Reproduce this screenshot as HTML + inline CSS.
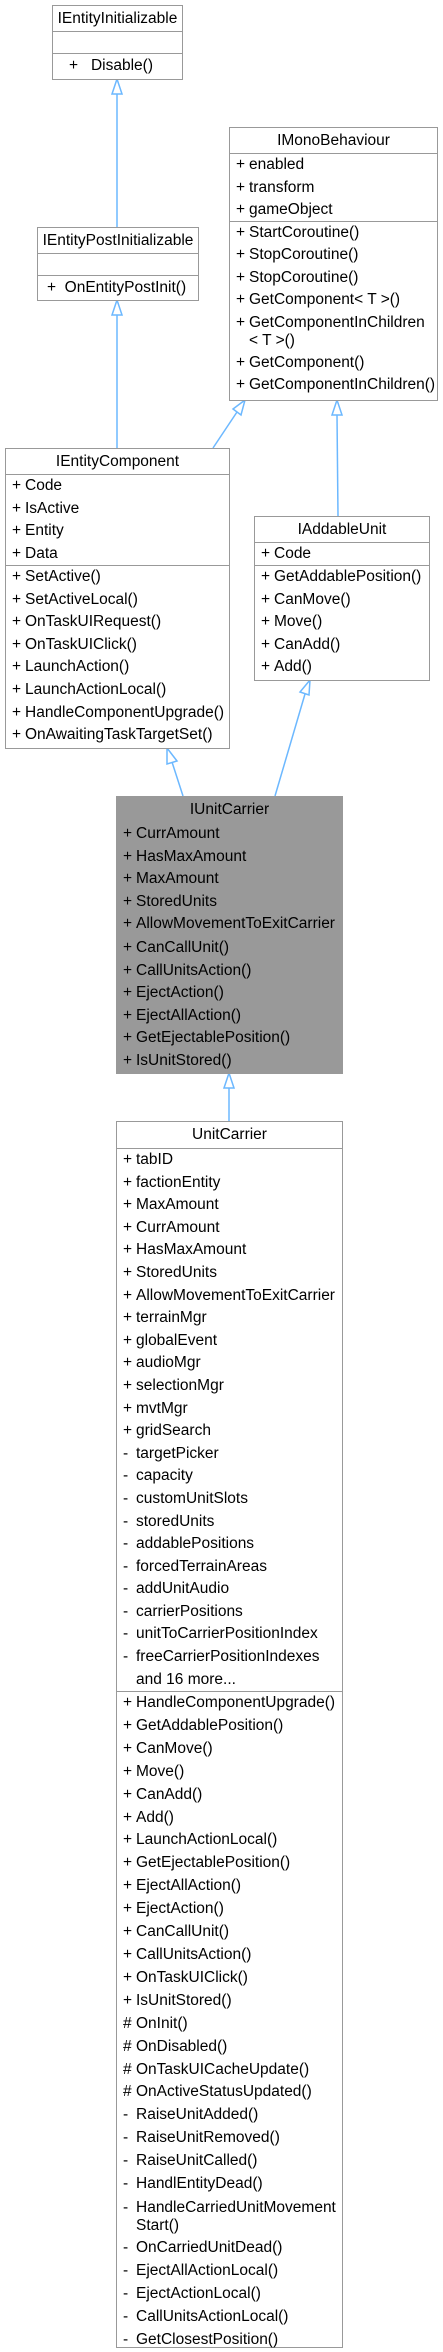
<!DOCTYPE html>
<html><head><meta charset="utf-8"><style>
*{margin:0;padding:0;box-sizing:border-box}
body{width:443px;height:2352px;background:#fff;position:relative;overflow:hidden;font-family:"Liberation Sans",Arial,sans-serif;font-size:15.5px;color:#000}
.b{position:absolute;border:1.5px solid #999;background:#fff}
.g{background:#999}
.s{position:relative;border-top:1.5px solid #999}
.t{text-align:center;border-top:none}
.r{position:relative;white-space:nowrap;padding-left:19px}
.r i{font-style:normal;position:absolute;left:6px}
svg{position:absolute;left:0;top:0}
</style></head><body>
<svg width="443" height="2352">
<g stroke="#6cb8ff" stroke-width="1.5" fill="#fff">
<line x1="117" y1="227" x2="117" y2="94"/><polygon points="117,79 112,94 122,94"/>
<line x1="117" y1="448" x2="117" y2="315"/><polygon points="117,300 112,315 122,315"/>
<line x1="213" y1="448" x2="237" y2="412"/><polygon points="245,400 233,409 241,415"/>
<line x1="338" y1="516" x2="337" y2="415"/><polygon points="337,400 332,415 342,415"/>
<line x1="183" y1="796" x2="172" y2="762"/><polygon points="167,748 167,764 177,761"/>
<line x1="275" y1="796" x2="305" y2="694"/><polygon points="310,680 300,692 309,695"/>
<line x1="229" y1="1121" x2="229" y2="1088"/><polygon points="229,1073 224,1088 234,1088"/>
</g></svg>

<div class="b" style="left:52px;top:5px;width:131px;height:75px">
<div class="s t" style="height:25px;line-height:25px">IEntityInitializable</div>
<div class="s" style="height:22px"></div>
<div class="s" style="height:25px;line-height:24px;padding-left:16px">+ &nbsp;&nbsp;Disable()</div>
</div>

<div class="b" style="left:37px;top:227px;width:162px;height:74px">
<div class="s t" style="height:25px;line-height:25px">IEntityPostInitializable</div>
<div class="s" style="height:22px"></div>
<div class="s" style="height:24px;line-height:23px;padding-left:9px">+ &nbsp;OnEntityPostInit()</div>
</div>

<div class="b" style="left:229px;top:127px;width:209px;height:274px">
<div class="s t" style="height:25px;line-height:25px">IMonoBehaviour</div>
<div class="s" style="height:68px;line-height:22.5px">
<div class="r"><i>+</i>enabled</div><div class="r"><i>+</i>transform</div><div class="r"><i>+</i>gameObject</div></div>
<div class="s" style="height:178px;line-height:22.3px">
<div class="r"><i>+</i>StartCoroutine()</div><div class="r"><i>+</i>StopCoroutine()</div><div class="r"><i>+</i>StopCoroutine()</div><div class="r"><i>+</i>GetComponent&lt; T &gt;()</div><div class="r" style="line-height:18px;padding-top:3px;padding-bottom:2px"><i>+</i>GetComponentInChildren<br>&lt; T &gt;()</div><div class="r"><i>+</i>GetComponent()</div><div class="r"><i>+</i>GetComponentInChildren()</div></div>
</div>

<div class="b" style="left:5px;top:448px;width:225px;height:301px">
<div class="s t" style="height:25px;line-height:25px">IEntityComponent</div>
<div class="s" style="height:91px;line-height:22.5px">
<div class="r"><i>+</i>Code</div><div class="r"><i>+</i>IsActive</div><div class="r"><i>+</i>Entity</div><div class="r"><i>+</i>Data</div></div>
<div class="s" style="height:182px;line-height:22.6px">
<div class="r"><i>+</i>SetActive()</div><div class="r"><i>+</i>SetActiveLocal()</div><div class="r"><i>+</i>OnTaskUIRequest()</div><div class="r"><i>+</i>OnTaskUIClick()</div><div class="r"><i>+</i>LaunchAction()</div><div class="r"><i>+</i>LaunchActionLocal()</div><div class="r"><i>+</i>HandleComponentUpgrade()</div><div class="r"><i>+</i>OnAwaitingTaskTargetSet()</div></div>
</div>

<div class="b" style="left:254px;top:516px;width:176px;height:165px">
<div class="s t" style="height:25px;line-height:25px">IAddableUnit</div>
<div class="s" style="height:23px;line-height:22px"><div class="r"><i>+</i>Code</div></div>
<div class="s" style="height:114px;line-height:22.6px">
<div class="r"><i>+</i>GetAddablePosition()</div><div class="r"><i>+</i>CanMove()</div><div class="r"><i>+</i>Move()</div><div class="r"><i>+</i>CanAdd()</div><div class="r"><i>+</i>Add()</div></div>
</div>

<div class="b g" style="left:116px;top:796px;width:227px;height:278px">
<div class="s t" style="height:25px;line-height:25px">IUnitCarrier</div>
<div class="s" style="height:114px;line-height:22.6px">
<div class="r"><i>+</i>CurrAmount</div><div class="r"><i>+</i>HasMaxAmount</div><div class="r"><i>+</i>MaxAmount</div><div class="r"><i>+</i>StoredUnits</div><div class="r"><i>+</i>AllowMovementToExitCarrier</div></div>
<div class="s" style="height:136px;line-height:22.5px">
<div class="r"><i>+</i>CanCallUnit()</div><div class="r"><i>+</i>CallUnitsAction()</div><div class="r"><i>+</i>EjectAction()</div><div class="r"><i>+</i>EjectAllAction()</div><div class="r"><i>+</i>GetEjectablePosition()</div><div class="r"><i>+</i>IsUnitStored()</div></div>
</div>

<div class="b" style="left:116px;top:1121px;width:227px;height:1227px">
<div class="s t" style="height:26px;line-height:26px">UnitCarrier</div>
<div class="s" style="height:543px;line-height:22.6px">
<div class="r"><i>+</i>tabID</div><div class="r"><i>+</i>factionEntity</div><div class="r"><i>+</i>MaxAmount</div><div class="r"><i>+</i>CurrAmount</div><div class="r"><i>+</i>HasMaxAmount</div><div class="r"><i>+</i>StoredUnits</div><div class="r"><i>+</i>AllowMovementToExitCarrier</div><div class="r"><i>+</i>terrainMgr</div><div class="r"><i>+</i>globalEvent</div><div class="r"><i>+</i>audioMgr</div><div class="r"><i>+</i>selectionMgr</div><div class="r"><i>+</i>mvtMgr</div><div class="r"><i>+</i>gridSearch</div><div class="r"><i>-</i>targetPicker</div><div class="r"><i>-</i>capacity</div><div class="r"><i>-</i>customUnitSlots</div><div class="r"><i>-</i>storedUnits</div><div class="r"><i>-</i>addablePositions</div><div class="r"><i>-</i>forcedTerrainAreas</div><div class="r"><i>-</i>addUnitAudio</div><div class="r"><i>-</i>carrierPositions</div><div class="r"><i>-</i>unitToCarrierPositionIndex</div><div class="r"><i>-</i>freeCarrierPositionIndexes</div><div class="r">and 16 more...</div></div>
<div class="s" style="height:655px;line-height:22.9px">
<div class="r"><i>+</i>HandleComponentUpgrade()</div><div class="r"><i>+</i>GetAddablePosition()</div><div class="r"><i>+</i>CanMove()</div><div class="r"><i>+</i>Move()</div><div class="r"><i>+</i>CanAdd()</div><div class="r"><i>+</i>Add()</div><div class="r"><i>+</i>LaunchActionLocal()</div><div class="r"><i>+</i>GetEjectablePosition()</div><div class="r"><i>+</i>EjectAllAction()</div><div class="r"><i>+</i>EjectAction()</div><div class="r"><i>+</i>CanCallUnit()</div><div class="r"><i>+</i>CallUnitsAction()</div><div class="r"><i>+</i>OnTaskUIClick()</div><div class="r"><i>+</i>IsUnitStored()</div><div class="r"><i>#</i>OnInit()</div><div class="r"><i>#</i>OnDisabled()</div><div class="r"><i>#</i>OnTaskUICacheUpdate()</div><div class="r"><i>#</i>OnActiveStatusUpdated()</div><div class="r"><i>-</i>RaiseUnitAdded()</div><div class="r"><i>-</i>RaiseUnitRemoved()</div><div class="r"><i>-</i>RaiseUnitCalled()</div><div class="r"><i>-</i>HandlEntityDead()</div><div class="r" style="line-height:18px;padding-top:3px;padding-bottom:2px"><i>-</i>HandleCarriedUnitMovement<br>Start()</div><div class="r"><i>-</i>OnCarriedUnitDead()</div><div class="r"><i>-</i>EjectAllActionLocal()</div><div class="r"><i>-</i>EjectActionLocal()</div><div class="r"><i>-</i>CallUnitsActionLocal()</div><div class="r"><i>-</i>GetClosestPosition()</div></div>
</div>
</body></html>
